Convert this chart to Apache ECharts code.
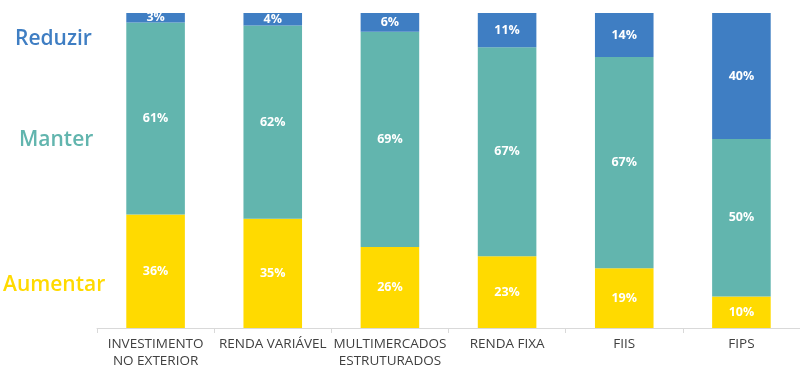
<!DOCTYPE html>
<html><head><meta charset="utf-8">
<script src="https://cdn.jsdelivr.net/npm/echarts@6/dist/echarts.min.js"></script>
<style>html,body{margin:0;padding:0;background:#fff}#c{width:800px;height:372px}</style>
</head><body><div id="c"></div>
<script>
const categories = ['INVESTIMENTO\nNO EXTERIOR', 'RENDA VARIÁVEL', 'MULTIMERCADOS\nESTRUTURADOS', 'RENDA FIXA', 'FIIS', 'FIPS'];
const aumentar = [36, 35, 26, 23, 19, 10];
const manter = [61, 62, 69, 67, 67, 50];
const reduzir = [3, 4, 6, 11, 14, 40];
const seriesNames = ['Aumentar', 'Manter', 'Reduzir'];
const colors = ['#FFDA00', '#62B5AE', '#3F7EC3'];

const totals = categories.map((_, i) => aumentar[i] + manter[i] + reduzir[i]);
const norm = arr => arr.map((v, i) => ({ value: v / totals[i] * 100, raw: v }));
const raw = [aumentar, manter, reduzir];

const chart = echarts.init(document.getElementById('c'), null, { renderer: 'canvas' });
chart.setOption({
  animation: false,
  grid: { left: 97, right: 0, top: 13, bottom: 44 },
  xAxis: {
    type: 'category',
    data: categories,
    axisLine: { lineStyle: { color: '#d9d9d9', width: 1 } },
    axisTick: { show: true, length: 5, lineStyle: { color: '#d9d9d9' } },
    axisLabel: { color: '#404040', fontFamily: 'Open Sans', fontSize: 13.5, lineHeight: 17, margin: 8, interval: 0 }
  },
  yAxis: { type: 'value', min: 0, max: 100, show: false },
  series: raw.map((arr, k) => ({
    name: seriesNames[k],
    type: 'bar',
    stack: 'total',
    barWidth: '50%',
    data: norm(arr),
    itemStyle: { color: colors[k] },
    label: {
      show: true,
      position: 'inside',
      color: '#fff',
      fontFamily: 'Open Sans',
      fontWeight: 'bold',
      fontSize: 12.5,
      formatter: p => p.data.raw + '%'
    }
  })),
  graphic: [
    { type: 'text', left: 15, top: 29, style: { text: 'Reduzir', fill: '#3F7EC3', font: '600 21px "Open Sans"' } },
    { type: 'text', left: 19, top: 130, style: { text: 'Manter', fill: '#62B5AE', font: '600 21px "Open Sans"' } },
    { type: 'text', left: 3, top: 275, style: { text: 'Aumentar', fill: '#FFDA00', font: '600 21px "Open Sans"' } }
  ]
});
</script></body></html>
